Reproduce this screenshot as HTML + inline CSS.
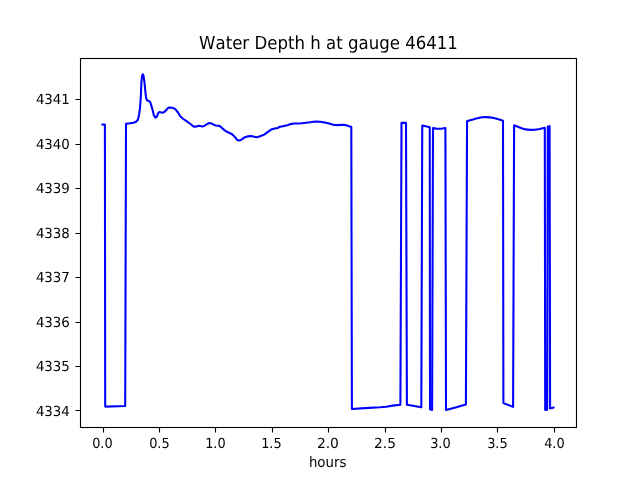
<!DOCTYPE html><html><head><meta charset="utf-8"><title>Water Depth h at gauge 46411</title><style>html,body{margin:0;padding:0;background:#fff;width:640px;height:480px;overflow:hidden}svg{display:block;will-change:transform}text{text-rendering:geometricPrecision;font-kerning:none}</style></head><body>
<svg width="640" height="480" viewBox="0 0 640 480">
<rect x="0" y="0" width="640" height="480" fill="#fff"/>
<path d="M102.5 124.5 L104.9 124.6 L105.2 406.6 L125.2 405.95 L126 123.7 L130.2 123.3 L133.5 122.8 L136 121.8 L137.7 120.1 L138.5 117.5 L139.1 114.25 L139.5 111.3 L140 108 L140.5 101.25 L140.9 95 L141.3 83.7 L142 76 L142.8 74.3 L143.6 76 L144.6 83.7 L145.4 92 L145.8 95.3 L146.2 98.25 L147 100.3 L148.7 101 L150 101.8 L150.8 103.7 L151.6 106.6 L152.7 110.3 L153.75 114.9 L155.4 117.6 L156.9 116.6 L158.1 113.25 L159.4 112 L161.25 112.4 L162.5 112.75 L164.6 111.8 L166.7 109.5 L168.3 107.8 L170.1 107.4 L173.4 108 L175.5 109.4 L178 112.5 L180.2 116.25 L183 118.75 L186.2 120.9 L190.1 123.75 L194.1 126.8 L196.6 126.4 L199 125.8 L202.3 126.6 L204.7 125.6 L207.1 124 L209.6 123.1 L211.6 123.5 L213.2 124.4 L215.5 125.5 L218.6 125.7 L220.5 126.5 L223 128.9 L225.5 131 L228 132.2 L232.1 134.3 L234.9 136.9 L236.9 139.6 L238.8 140.6 L241 139.9 L244.2 137.6 L247.4 136.4 L251 136.1 L253.5 136.6 L257.1 137.2 L260.1 136.3 L264.2 134.6 L268.3 131.6 L271.1 129.6 L274.8 128.6 L277.6 128 L280.1 126.7 L284.1 125.9 L287.4 125.2 L290.6 124.1 L294.3 123.5 L298 123.45 L301.6 123.3 L306.1 122.75 L310.2 122.3 L315.4 121.5 L320.3 121.8 L325.6 122.65 L328.25 123.2 L331.4 124.3 L334.5 125 L337.6 125.1 L342.6 124.7 L345.4 125.1 L348.5 126.1 L351.3 126.9 L351.9 409 L364.75 408.1 L380 407.25 L386.25 406.7 L392.5 405.6 L400.4 404.8 L401.5 122.8 L406 122.9 L406.9 404.8 L421.3 407.3 L422.25 125.5 L429.75 127.2 L430 409.3 L432.1 409.9 L433 128.1 L436 128.6 L441 128.8 L445.4 128 L446 410.1 L455.5 407.4 L465.9 404.5 L467.05 121.3 L470 120.2 L473.1 119.4 L476.25 118.5 L479.4 117.8 L482.5 117.3 L486.25 117.1 L490 117.4 L493.75 118 L497.5 119 L500.9 120 L503 120.7 L503.4 403.1 L513.1 406.9 L514.1 125.3 L517.8 126.7 L521.7 128.2 L525.6 129.4 L530.3 129.9 L535 129.7 L539.7 128.95 L544.8 127.7 L545.2 410 L547.2 409.8 L547.8 126.7 L549.6 126.1 L550.1 408.5 L553.5 407.5" fill="none" stroke="#0000ff" stroke-width="2.083" stroke-linecap="square" stroke-linejoin="round"/>
<path d="M80 57.5 L577 57.5 M80 59.5 L577 59.5 M80 426.5 L577 426.5 M80 428.5 L577 428.5" fill="none" stroke="#f1f1f1" stroke-width="1"/>
<path d="M80.5 58.5 L80.5 427.5 M576.5 58.5 L576.5 427.5 M80.5 427.5 L576.5 427.5 M80.5 58.5 L576.5 58.5" fill="none" stroke="#000" stroke-width="1.111" stroke-linecap="square"/>
<path d="M103.5 427.5 L103.5 432.5 M159.5 427.5 L159.5 432.5 M215.5 427.5 L215.5 432.5 M272.5 427.5 L272.5 432.5 M328.5 427.5 L328.5 432.5 M385.5 427.5 L385.5 432.5 M441.5 427.5 L441.5 432.5 M497.5 427.5 L497.5 432.5 M554.5 427.5 L554.5 432.5 M80.5 410.5 L75.5 410.5 M80.5 366.5 L75.5 366.5 M80.5 322.5 L75.5 322.5 M80.5 277.5 L75.5 277.5 M80.5 233.5 L75.5 233.5 M80.5 188.5 L75.5 188.5 M80.5 144.5 L75.5 144.5 M80.5 99.5 L75.5 99.5" fill="none" stroke="#000" stroke-width="1.111"/>
<text x="102.39" y="448" text-anchor="middle" textLength="20.5" lengthAdjust="spacingAndGlyphs" style="font-size:13.889px;font-family:'DejaVu Sans','Liberation Sans',sans-serif">0.0</text>
<text x="159.4" y="448" text-anchor="middle" textLength="20.5" lengthAdjust="spacingAndGlyphs" style="font-size:13.889px;font-family:'DejaVu Sans','Liberation Sans',sans-serif">0.5</text>
<text x="215.41" y="448" text-anchor="middle" textLength="20.5" lengthAdjust="spacingAndGlyphs" style="font-size:13.889px;font-family:'DejaVu Sans','Liberation Sans',sans-serif">1.0</text>
<text x="271.41" y="448" text-anchor="middle" textLength="20.5" lengthAdjust="spacingAndGlyphs" style="font-size:13.889px;font-family:'DejaVu Sans','Liberation Sans',sans-serif">1.5</text>
<text x="327.92" y="448" text-anchor="middle" textLength="22" lengthAdjust="spacingAndGlyphs" style="font-size:13.889px;font-family:'DejaVu Sans','Liberation Sans',sans-serif">2.0</text>
<text x="384.97" y="448" text-anchor="middle" textLength="21.8" lengthAdjust="spacingAndGlyphs" style="font-size:13.889px;font-family:'DejaVu Sans','Liberation Sans',sans-serif">2.5</text>
<text x="440.43" y="448" text-anchor="middle" textLength="20.6" lengthAdjust="spacingAndGlyphs" style="font-size:13.889px;font-family:'DejaVu Sans','Liberation Sans',sans-serif">3.0</text>
<text x="497.44" y="448" text-anchor="middle" textLength="20.6" lengthAdjust="spacingAndGlyphs" style="font-size:13.889px;font-family:'DejaVu Sans','Liberation Sans',sans-serif">3.5</text>
<text x="554.39" y="448" text-anchor="middle" textLength="20.5" lengthAdjust="spacingAndGlyphs" style="font-size:13.889px;font-family:'DejaVu Sans','Liberation Sans',sans-serif">4.0</text>
<text x="69.88" y="416" text-anchor="end" textLength="34" lengthAdjust="spacingAndGlyphs" style="font-size:13.889px;font-family:'DejaVu Sans','Liberation Sans',sans-serif">4334</text>
<text x="69.88" y="371" text-anchor="end" textLength="34" lengthAdjust="spacingAndGlyphs" style="font-size:13.889px;font-family:'DejaVu Sans','Liberation Sans',sans-serif">4335</text>
<text x="69.88" y="327" text-anchor="end" textLength="34" lengthAdjust="spacingAndGlyphs" style="font-size:13.889px;font-family:'DejaVu Sans','Liberation Sans',sans-serif">4336</text>
<text x="69.88" y="282" text-anchor="end" textLength="34" lengthAdjust="spacingAndGlyphs" style="font-size:13.889px;font-family:'DejaVu Sans','Liberation Sans',sans-serif">4337</text>
<text x="69.88" y="238" text-anchor="end" textLength="34" lengthAdjust="spacingAndGlyphs" style="font-size:13.889px;font-family:'DejaVu Sans','Liberation Sans',sans-serif">4338</text>
<text x="69.88" y="193" text-anchor="end" textLength="34" lengthAdjust="spacingAndGlyphs" style="font-size:13.889px;font-family:'DejaVu Sans','Liberation Sans',sans-serif">4339</text>
<text x="69.88" y="149" text-anchor="end" textLength="34" lengthAdjust="spacingAndGlyphs" style="font-size:13.889px;font-family:'DejaVu Sans','Liberation Sans',sans-serif">4340</text>
<text x="69.88" y="104" text-anchor="end" textLength="34" lengthAdjust="spacingAndGlyphs" style="font-size:13.889px;font-family:'DejaVu Sans','Liberation Sans',sans-serif">4341</text>
<text x="327.7" y="467" text-anchor="middle" textLength="37.6" lengthAdjust="spacingAndGlyphs" style="font-size:14.5px;font-family:'DejaVu Sans','Liberation Sans',sans-serif">hours</text>
<text x="328.5" y="49" text-anchor="middle" textLength="258.8" lengthAdjust="spacingAndGlyphs" style="font-size:18.0px;font-family:'DejaVu Sans','Liberation Sans',sans-serif">Water Depth h at gauge 46411</text>
</svg></body></html>
